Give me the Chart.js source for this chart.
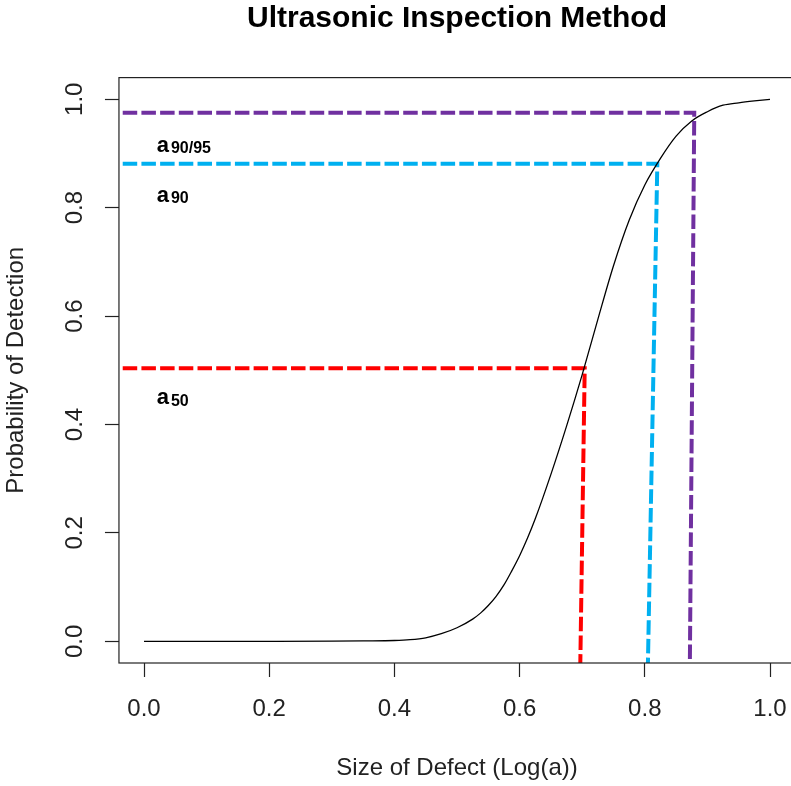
<!DOCTYPE html>
<html>
<head>
<meta charset="utf-8">
<script src="https://cdn.jsdelivr.net/npm/chart.js@4/dist/chart.umd.min.js"></script>
<style>
  html, body { margin: 0; padding: 0; background: #fff; overflow: hidden; }
  #wrap { width: 791px; height: 786px; overflow: hidden; position: relative; }
  canvas { display: block; }
</style>
</head>
<body>
<div id="wrap"><canvas id="pod" width="820" height="786"></canvas></div>
<script>
// Probability-of-detection curve against log defect size
const defectSize = [0, 0.1, 0.2, 0.3, 0.35, 0.4, 0.425, 0.45, 0.475, 0.5, 0.525, 0.5375, 0.55, 0.5625, 0.575, 0.5875,
                    0.6, 0.6125, 0.625, 0.65, 0.675, 0.7, 0.725, 0.75, 0.775, 0.8, 0.825, 0.85, 0.875, 0.9,
                    0.925, 0.95, 0.975, 1.0];
const detectionProb = [0, 0, 0, 0.0003, 0.0008, 0.0015, 0.003, 0.0065, 0.014, 0.025, 0.041, 0.052, 0.066, 0.083, 0.104, 0.13,
                       0.158, 0.19, 0.226, 0.308, 0.397, 0.492, 0.594, 0.693, 0.777, 0.842, 0.891, 0.932, 0.96, 0.977,
                       0.989, 0.9935, 0.997, 1.0];

// Reference levels a50, a90, a90/95
const levelNames = ['50', '90', '90/95'];
const levelProb = [0.504, 0.881, 0.975];
const levelSizeTop = [0.704, 0.820, 0.879];
const levelSizeBottom = [0.697, 0.805, 0.872];
const levelLabelX = [0.0203, 0.0203, 0.0203];
const levelLabelY = [0.438, 0.811, 0.903];
const levelStartX = -0.034;

// Axes
const xRange = [-0.04, 1.04];
const yRange = [-0.04, 1.04];
const xTicks = [0, 0.2, 0.4, 0.6, 0.8, 1.0];
const xTickLabels = ['0.0', '0.2', '0.4', '0.6', '0.8', '1.0'];
const yTicks = [0, 0.2, 0.4, 0.6, 0.8, 1.0];
const yTickLabels = ['0.0', '0.2', '0.4', '0.6', '0.8', '1.0'];

const FONT = '"Liberation Sans", Arial, sans-serif';
const levelColors = ['#FF0000', '#00B0F0', '#7030A0'];

const curveSet = {
  label: 'POD',
  data: defectSize.map((x, i) => ({ x, y: detectionProb[i] })),
  borderColor: '#000',
  borderWidth: 1.3,
  pointRadius: 0,
  cubicInterpolationMode: 'monotone',
  fill: false
};

const levelSets = levelNames.map((name, i) => ({
  label: 'a' + name,
  data: [
    { x: levelStartX, y: levelProb[i] },
    { x: levelSizeTop[i], y: levelProb[i] },
    { x: levelSizeBottom[i], y: yRange[0] }
  ],
  borderColor: levelColors[i],
  borderWidth: 4,
  borderDash: [14.5, 4.2],
  borderCapStyle: 'butt',
  borderJoinStyle: 'miter',
  pointRadius: 0,
  tension: 0,
  fill: false
}));

// Box around the plotting region
const frame = {
  id: 'frame',
  afterDraw(chart) {
    const { ctx, chartArea: a } = chart;
    ctx.save();
    ctx.strokeStyle = '#222';
    ctx.lineWidth = 1.2;
    ctx.strokeRect(a.left, a.top, a.right - a.left, a.bottom - a.top);
    ctx.restore();
  }
};

// "a" with subscript labels under each reference level
const levelLabels = {
  id: 'levelLabels',
  afterDraw(chart) {
    const { ctx, scales: { x, y } } = chart;
    ctx.save();
    ctx.fillStyle = '#000';
    ctx.textBaseline = 'alphabetic';
    ctx.textAlign = 'left';
    levelNames.forEach((name, i) => {
      const px = x.getPixelForValue(levelLabelX[i]);
      const py = y.getPixelForValue(levelLabelY[i]);
      ctx.font = 'bold 22px ' + FONT;
      ctx.fillText('a', px, py);
      const w = ctx.measureText('a').width;
      ctx.font = 'bold 16px ' + FONT;
      ctx.fillText(name, px + w + 2, py + 1.6);
    });
    ctx.restore();
  }
};

new Chart(document.getElementById('pod'), {
  type: 'line',
  data: { datasets: [curveSet, ...levelSets] },
  options: {
    responsive: false,
    animation: false,
    events: [],
    layout: { padding: { left: 0, right: 24.96, top: 0, bottom: 0 } },
    plugins: {
      legend: { display: false },
      tooltip: { enabled: false },
      title: {
        display: true,
        text: 'Ultrasonic Inspection Method',
        fullSize: false,
        color: '#000',
        font: { family: FONT, size: 30, weight: 'bold', lineHeight: 1.2 },
        padding: { top: 1, bottom: 40.6 }
      }
    },
    scales: {
      x: {
        type: 'linear',
        position: 'bottom',
        min: xRange[0],
        max: xRange[1],
        afterBuildTicks: s => { s.ticks = xTicks.map(v => ({ value: v })); },
        afterFit: s => { s.height = 123; },
        ticks: {
          autoSkip: false,
          minRotation: 0,
          maxRotation: 0,
          padding: 18,
          color: '#222',
          font: { family: FONT, size: 24 },
          callback: (v, i) => xTickLabels[i]
        },
        grid: { display: true, drawOnChartArea: false, drawTicks: true, tickLength: 14, tickColor: '#222', tickWidth: 1.2 },
        border: { display: false },
        title: {
          display: true,
          text: 'Size of Defect (Log(a))',
          color: '#222',
          font: { family: FONT, size: 24 },
          padding: { top: 0, bottom: 2.9 }
        }
      },
      y: {
        type: 'linear',
        position: 'left',
        min: yRange[0],
        max: yRange[1],
        afterBuildTicks: s => { s.ticks = yTicks.map(v => ({ value: v })); },
        afterFit: s => { s.width = 118.96; },
        ticks: {
          autoSkip: false,
          minRotation: 90,
          maxRotation: 90,
          crossAlign: 'center',
          padding: 12.5,
          color: '#222',
          font: { family: FONT, size: 24 },
          callback: (v, i) => yTickLabels[i]
        },
        grid: { display: true, drawOnChartArea: false, drawTicks: true, tickLength: 14, tickColor: '#222', tickWidth: 1.2 },
        border: { display: false },
        title: {
          display: true,
          text: 'Probability of Detection',
          color: '#222',
          font: { family: FONT, size: 24 },
          padding: { top: 2.3, bottom: 0 }
        }
      }
    }
  },
  plugins: [frame, levelLabels]
});
</script>
</body>
</html>
